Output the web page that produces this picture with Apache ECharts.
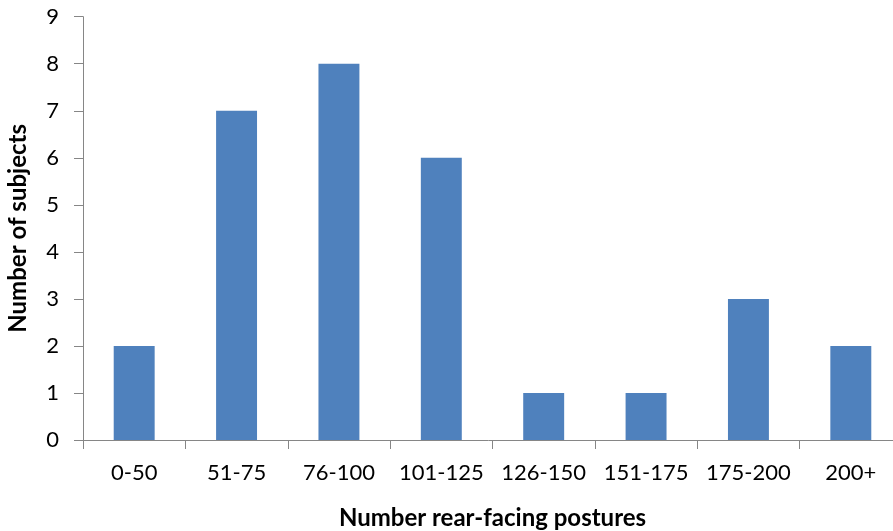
<!DOCTYPE html>
<html>
<head>
<meta charset="utf-8">
<script src="https://cdn.jsdelivr.net/npm/echarts@6/dist/echarts.min.js"></script>
<style>
  html, body { margin: 0; padding: 0; background: #fff; }
  #chart { width: 893px; height: 531px; }
</style>
</head>
<body>
<div id="chart"></div>
<script>
// categories and values
var categories = ['0-50', '51-75', '76-100', '101-125', '126-150', '151-175', '175-200', '200+'];
var subjects = [2, 7, 8, 6, 1, 1, 3, 2];

var axisGrey = '#868686';
var font = 'Lato, "Open Sans", sans-serif';

var myChart = echarts.init(document.getElementById('chart'));
var option = {
  backgroundColor: '#fff',
  animation: false,
  grid: {
    left: 83,
    right: -9,
    top: 16.7,
    bottom: 91,
    containLabel: false,
    outerBoundsMode: 'none'
  },
  xAxis: {
    type: 'category',
    data: categories,
    name: 'Number rear-facing postures',
    nameLocation: 'middle',
    nameGap: 66,
    nameTextStyle: { fontFamily: font, fontWeight: 'bold', fontSize: 24, color: '#000' },
    axisLine: { lineStyle: { color: axisGrey, width: 1 } },
    axisTick: { show: true, interval: 0, length: 9, lineStyle: { color: axisGrey } },
    axisLabel: { interval: 0, fontFamily: font, fontSize: 22, color: '#000', margin: 22 }
  },
  yAxis: {
    type: 'value',
    min: 0,
    max: 9,
    interval: 1,
    name: 'Number of subjects',
    nameLocation: 'middle',
    nameGap: 53,
    nameTextStyle: { fontFamily: font, fontWeight: 'bold', fontSize: 24, color: '#000' },
    axisLine: { show: true, lineStyle: { color: axisGrey, width: 1 } },
    axisTick: { show: true, length: 9, lineStyle: { color: axisGrey } },
    axisLabel: { fontFamily: font, fontSize: 22, color: '#000', margin: 24 },
    splitLine: { show: false }
  },
  series: [
    {
      name: 'Number of subjects',
      type: 'bar',
      data: subjects,
      barCategoryGap: '60%',
      itemStyle: { color: '#4F81BD' }
    }
  ]
};
myChart.setOption(option);
</script>
</body>
</html>
